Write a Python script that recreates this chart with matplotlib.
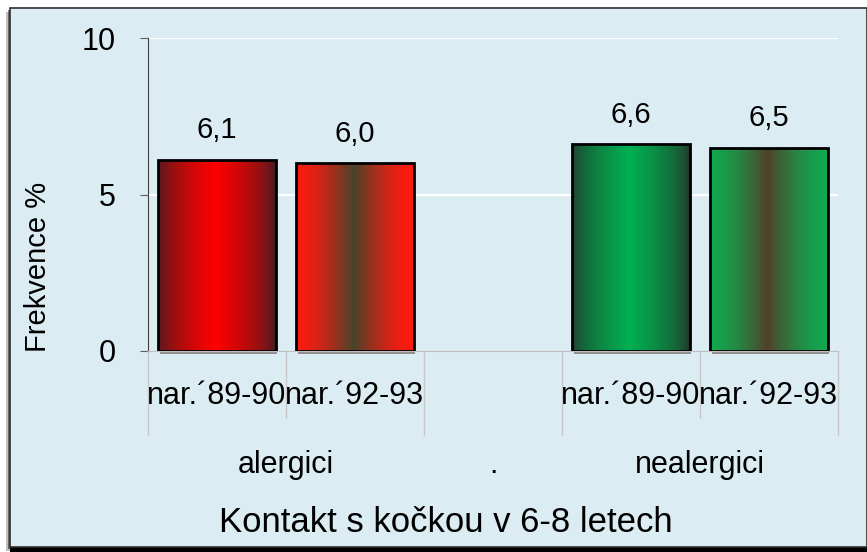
import numpy as np
import matplotlib
matplotlib.use("Agg")
import matplotlib.pyplot as plt
from matplotlib.patches import Rectangle
from matplotlib.colors import to_rgb

plt.rcParams['font.family'] = ['Liberation Sans', 'DejaVu Sans']

# data
groups = ["alergici", ".", "nealergici"]
sub_labels = ["nar.\u00b489-90", "nar.\u00b492-93", "", "nar.\u00b489-90", "nar.\u00b492-93"]
values = [6.1, 6.0, None, 6.6, 6.5]
value_text = ["6,1", "6,0", "", "6,6", "6,5"]
group_sizes = [2, 1, 2]
# (edge colour, centre colour, sharpness) for each bar's horizontal gradient
bar_grad = [("#2e2024", "#ff0000", 0.55), ("#ff1a10", "#48442a", 1.6), None,
            ("#262a28", "#00b050", 0.55), ("#12a850", "#52402a", 1.6)]

BG = "#dbedf3"
W, H = 867, 552
FS = 22

fig = plt.figure(figsize=(W / 100, H / 100), dpi=100)
fig.patch.set_facecolor("white")

def px(x0, y0, x1, y1):
    return (x0 / W, 1 - y1 / H), (x1 - x0) / W, (y1 - y0) / H

# panel with shadow
for off, a, z in [(4, 0.25, -4), (2, 0.45, -3)]:
    xy, w, h = px(10 - off, 8 + off, 867, 547 + off)
    fig.patches.append(Rectangle(xy, w, h, transform=fig.transFigure,
                                 facecolor="black", alpha=a, edgecolor="none", zorder=z))
fig.patches.append(Rectangle((10 / W, 0), 1, 5 / H, transform=fig.transFigure,
                             facecolor="black", edgecolor="none", zorder=-2))
xy, w, h = px(10, 8, 867, 547)
fig.patches.append(Rectangle(xy, w, h, transform=fig.transFigure,
                             facecolor=BG, edgecolor="#303030", linewidth=1.2, zorder=-1))

ax_left, ax_right, ax_top, ax_bot = 148, 838, 38, 351
ax = fig.add_axes([ax_left / W, 1 - ax_bot / H, (ax_right - ax_left) / W, (ax_bot - ax_top) / H])
ax.set_zorder(1)
ax.set_facecolor("none")
n = len(sub_labels)

for s in ["top", "right"]:
    ax.spines[s].set_visible(False)
ax.spines["left"].set_color("#404040")
ax.spines["bottom"].set_color("#bfbfbf")
ax.set_yticks([0, 5, 10])
ax.tick_params(axis="y", length=6, color="#606060", labelsize=FS, pad=17)
ax.set_xticks([])
for yv in [5, 10]:
    ax.axhline(yv, color="white", lw=1.5, zorder=0.5)

bw = 0.85
for i, v in enumerate(values):
    if v is None:
        continue
    x0 = i + 0.5 - bw / 2
    edge, mid, p = bar_grad[i]
    e = np.array(to_rgb(edge))
    m = np.array(to_rgb(mid))
    t = np.linspace(0, 1, 200)
    prof = np.clip(1 - np.abs(t - 0.49) / 0.51, 0, 1) ** p
    grad = e[None, :] * (1 - prof[:, None]) + m[None, :] * prof[:, None]
    img = np.tile(grad[None, :, :], (2, 1, 1))
    # shadow
    ax.add_patch(Rectangle((x0 + 0.01, -0.08), bw, v, facecolor="#909090", edgecolor="none",
                           zorder=1.5, clip_on=False))
    rect = Rectangle((x0, 0), bw, v, facecolor="none", edgecolor="black", lw=2, zorder=3)
    ax.add_patch(rect)
    im = ax.imshow(img, extent=(x0, x0 + bw, 0, v), aspect="auto", zorder=2, interpolation="bilinear")
    im.set_clip_path(rect)
    ax.text(i + 0.5, v + 0.5, value_text[i], ha="center", va="bottom", fontsize=21)

ax.set_xlim(0, n)
ax.set_ylim(0, 10)

# category axis
trans = ax.get_xaxis_transform()
y_short = -(418 - ax_bot) / (ax_bot - ax_top)
y_long = -(435 - ax_bot) / (ax_bot - ax_top)
y_sub = -(396 - ax_bot) / (ax_bot - ax_top)
y_grp = -(465 - ax_bot) / (ax_bot - ax_top)
for i, lab in enumerate(sub_labels):
    ax.text(i + 0.5, y_sub, lab, transform=trans, ha="center", va="center", fontsize=FS)
bounds = np.concatenate([[0], np.cumsum(group_sizes)])
for i in range(n + 1):
    yl = y_long if i in bounds else y_short
    ax.plot([i, i], [0, yl], transform=trans, color="#c8c8c8", lw=1, clip_on=False)
for g, lab in enumerate(groups):
    c = (bounds[g] + bounds[g + 1]) / 2
    ax.text(c, y_grp, lab, transform=trans, ha="center", va="center", fontsize=FS)

fig.text(38 / W, 1 - 267 / H, "Frekvence %", rotation=90, ha="center", va="center", fontsize=21)
fig.text(446 / W, 1 - 522 / H, "Kontakt s ko\u010dkou v 6-8 letech", ha="center", va="center",
         fontsize=25)

fig.savefig("out.png", dpi=100, facecolor=fig.get_facecolor())
